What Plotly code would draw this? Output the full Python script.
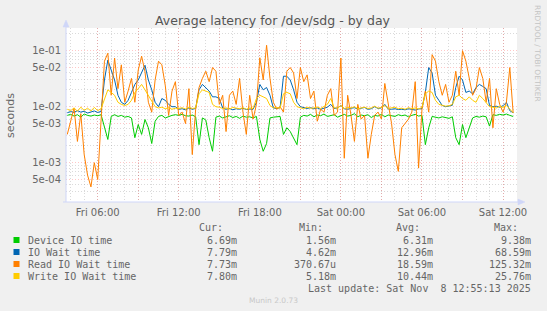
import numpy as np
import pandas as pd
import plotly.graph_objects as go

# ---------------- data (milliseconds, 15-minute samples) ----------------
start_time = "2025-11-07 03:45"
times = pd.date_range(start_time, periods=133, freq="15min")

device_ms = [
    7.0, 7.3, 6.8, 7.2, 6.5, 7.4, 7.0, 6.8, 7.1, 6.9, 7.2,
    4.2, 2.6, 6.7, 7.2, 6.7, 7.0, 6.5, 6.7, 6.3,
    2.8, 4.8, 3.2, 5.9, 4.2, 2.2, 5.5, 6.7, 7.0, 6.3, 6.7, 7.0, 7.2, 7.0,
    7.3, 6.9, 6.8, 7.1, 6.6,
    2.1, 6.3, 5.8, 2.8, 1.6,
    6.5, 6.8, 6.3, 6.6, 6.9, 6.4, 6.7, 6.2, 6.8, 6.5, 6.6, 6.3, 6.7,
    2.6, 1.6, 2.2, 6.3, 6.5, 6.7, 6.7, 3.2,
    4.2, 3.6, 2.8, 2.1,
    6.5, 7.0, 6.8, 7.3, 6.6, 7.1, 6.9, 7.4, 6.7, 7.0, 7.2, 6.5, 6.9, 7.3, 6.8,
    7.0, 7.5, 6.6, 7.1, 6.9, 7.2, 6.4, 7.0, 6.8, 7.3, 6.6, 7.1, 7.0, 6.7, 7.2,
    6.9, 7.1, 6.6, 7.0, 7.3, 6.8, 7.0,
    2.1, 4.2, 6.7,
    6.5, 6.3, 6.6, 6.4, 6.2, 6.6,
    2.8, 2.1, 4.8, 2.8, 4.2,
    6.3, 6.7, 6.5, 6.8, 6.6,
    4.5,
    7.2, 7.0, 7.3, 7.1, 7.4, 7.0, 6.69,
]

iowait_ms = [
    7.8, 8.2, 7.9, 8.5, 8.0, 8.3, 7.7, 8.1, 8.4, 7.9, 8.2,
    30, 68, 45, 30, 16, 12, 11, 13, 18,
    25, 30, 40, 55, 30, 20, 12, 10, 14, 13, 11, 10, 10, 9,
    9.2, 8.8, 9.5, 9.0, 9.3,
    20, 25, 22, 19, 15,
    15, 14, 9.5, 9.0, 9.3, 8.8, 9.2, 9.0, 9.4, 8.9, 9.1, 9.0, 12,
    25, 20, 22, 16, 9.5, 9.3, 9.6, 35,
    35, 30, 20, 12,
    10, 9.5, 9.3, 9.6, 9.2, 9.5, 9.0, 9.4, 9.8, 11, 9.3, 9.5, 10.5, 9.2, 9.0,
    9.4, 9.6, 9.1, 9.3, 9.7, 9.0, 9.2, 10, 9.3, 9.5, 11, 9.1, 9.0, 9.2, 8.9,
    9.0, 8.8, 9.2, 9.0, 8.7, 9.1, 9.3,
    18, 50, 40,
    16, 13, 10.5, 10, 10.2, 10.6,
    22, 35, 30, 18, 19,
    17, 22, 25, 23, 21,
    10.5,
    10, 10.2, 9.8, 10.4, 12, 8.5, 7.79,
]

read_ms = [
    3.2, 5.5, 9.5, 2.4, 7.5, 1.4, 0.6, 0.37, 1.0, 0.5, 5.5,
    65, 90, 16, 74, 21, 56, 12, 19, 32,
    12, 45, 80, 42, 12, 8, 30, 65, 56, 24, 7, 19, 28, 7,
    8, 5, 21, 1.4, 9,
    22, 32, 43, 28, 50,
    43, 11, 16, 3.6, 16, 19, 11, 32, 8, 3.2, 16, 6, 11,
    75, 30, 125, 32, 12, 9, 10, 8,
    43, 50, 40, 14,
    50, 28, 37, 14, 19, 5.5, 9, 8, 16, 21, 7, 8, 74, 1.2, 16,
    7, 2.4, 11, 6, 7, 1.2, 3.2, 7, 8, 6, 26, 11, 5, 1.4, 0.7,
    4.2, 5, 6, 8, 28, 0.8, 9,
    19, 8, 85,
    65, 28, 16, 25, 12, 16,
    43, 16, 100, 65, 32,
    16, 21, 50, 32, 12,
    32,
    4.2, 21, 11, 8, 12, 50, 7.73,
]

write_ms = [
    9.0, 8.5, 9.5, 8.3, 9.8, 8.6, 9.4, 8.4, 9.7, 8.5, 9.2,
    14, 20, 18, 16, 12, 11, 10.5, 11, 13,
    18, 21, 25, 20, 16, 13, 10, 9.5, 9.8, 9.2, 9.6, 9.0, 9.4, 9.3,
    9.6, 9.1, 9.8, 9.3, 9.5,
    17, 20, 19, 18, 11,
    10, 9.8, 9.3, 9.5, 9.1, 9.7, 9.4, 9.2, 9.6, 9.0, 9.5, 9.3, 14,
    16, 15, 14, 10.5, 9.5, 9.7, 9.4, 17,
    18, 17, 12, 10,
    9.6, 9.2, 9.8, 9.4, 9.5, 9.9, 9.3, 10.2, 11, 14, 9.6, 9.4, 10.5, 9.3, 9.7,
    9.5, 10, 9.2, 9.6, 9.8, 9.3, 9.5, 10.2, 9.4, 9.7, 10.5, 9.3, 9.5, 9.8, 9.2,
    9.4, 9.0, 9.6, 9.2, 9.5, 9.1, 9.7,
    17, 19, 18,
    13, 11, 10.5, 10.2, 10.4, 11,
    15, 16, 14, 13, 15,
    13, 12, 16, 14, 12,
    10,
    9.8, 9.5, 10.2, 9.7, 10.5, 9.0, 7.80,
]

series_names = ["Device IO time", "IO Wait time", "Read IO Wait time", "Write IO Wait time"]
series_colors = ["#00CC00", "#0066B3", "#FF8000", "#FFCC00"]
series_data = [device_ms, iowait_ms, read_ms, write_ms]

cur_text = ["6.69m", "7.79m", "7.73m", "7.80m"]
min_text = ["1.56m", "4.62m", "370.67u", "5.18m"]
avg_text = ["6.31m", "12.96m", "18.59m", "10.44m"]
max_text = ["9.38m", "68.59m", "125.32m", "25.76m"]

ytick_vals = [1e-1, 5e-2, 1e-2, 5e-3, 1e-3, 5e-4]
ytick_text = ["1e-01", "5e-02", "1e-02", "5e-03", "1e-03", "5e-04"]
xtick_vals = list(pd.date_range("2025-11-07 06:00", "2025-11-08 12:00", freq="3h"))
xtick_text = ["Fri 06:00", "", "Fri 12:00", "", "Fri 18:00", "",
              "Sat 00:00", "", "Sat 06:00", "", "Sat 12:00"]

title_text = "Average latency for /dev/sdg - by day"
ylabel_text = "seconds"
side_text = "RRDTOOL / TOBI OETIKER"
update_text = "Last update: Sat Nov\u00a0 8 12:55:13 2025"
version_text = "Munin 2.0.73"

# ---------------- layout geometry ----------------
W, H = 547, 311
L, R, T, B = 66, 517, 28, 202


def px(x):
    return (x - L) / (R - L)


def py(y):
    return (B - y) / (B - T)


FONT = "DejaVu Sans"
MONO = "DejaVu Sans Mono"
TXT = "#666666"
AXIS = "#CFD6F8"
MGRID = "rgba(255,0,0,0.22)"
GRID = "rgba(140,140,140,0.32)"

fig = go.Figure()
for name, color, vals in zip(series_names, series_colors, series_data):
    fig.add_trace(go.Scatter(x=times, y=np.array(vals) / 1000.0, mode="lines",
                             name=name, line=dict(color=color, width=1)))

minor_y = [m * 10.0 ** e for e in range(-4, 0) for m in (2, 3, 4, 6, 7, 8, 9)] + [0.2]

fig.update_layout(
    width=W, height=H,
    margin=dict(l=L, r=W - R, t=T, b=H - B, pad=0),
    paper_bgcolor="#F0F0F0", plot_bgcolor="#FFFFFF",
    showlegend=False,
    font=dict(family=FONT, color=TXT, size=10),
    xaxis=dict(
        type="date",
        range=["2025-11-07 03:39:15", "2025-11-08 13:02:00"],
        tickmode="array", tickvals=xtick_vals, ticktext=xtick_text,
        showgrid=True, gridcolor=MGRID, griddash="1px,2px", gridwidth=1,
        zeroline=False, showline=False, ticks="",
        tickfont=dict(size=10, color=TXT, family=FONT),
        ticklabelstandoff=3,
        minor=dict(dtick=3600000, tick0="2025-11-07 00:00", showgrid=True,
                   gridcolor=GRID, griddash="1px,2px", gridwidth=1, ticks=""),
        fixedrange=True,
    ),
    yaxis=dict(
        type="log",
        range=[-3.7018, -0.5946],
        tickmode="array", tickvals=ytick_vals, ticktext=ytick_text,
        showgrid=True, gridcolor=MGRID, griddash="1px,2px", gridwidth=1,
        zeroline=False, showline=False, ticks="",
        tickfont=dict(size=10, color=TXT, family=FONT),
        ticklabelstandoff=4,
        minor=dict(tickmode="array", tickvals=minor_y, showgrid=True,
                   gridcolor=GRID, griddash="1px,2px", gridwidth=1, ticks=""),
        fixedrange=True,
    ),
)

shapes = []
# axis lines with arrows
shapes.append(dict(type="line", xref="paper", yref="paper",
                   x0=px(66), x1=px(66), y0=py(202), y1=py(24),
                   line=dict(color=AXIS, width=1)))
shapes.append(dict(type="line", xref="paper", yref="paper",
                   x0=px(63), x1=px(520), y0=py(202), y1=py(202),
                   line=dict(color=AXIS, width=1)))
shapes.append(dict(type="path", xref="paper", yref="paper",
                   path="M {} {} L {} {} L {} {} Z".format(px(63), py(27), px(69), py(27), px(66), py(20)),
                   fillcolor=AXIS, line=dict(color=AXIS, width=0.5)))
shapes.append(dict(type="path", xref="paper", yref="paper",
                   path="M {} {} L {} {} L {} {} Z".format(px(518), py(199), px(518), py(205), px(525), py(202)),
                   fillcolor=AXIS, line=dict(color=AXIS, width=0.5)))

annotations = []


def ann(text, x, y, xanchor="left", size=10, family=MONO, color=TXT, angle=0):
    annotations.append(dict(text=text, x=px(x), y=py(y), xref="paper", yref="paper",
                            xanchor=xanchor, yanchor="middle", showarrow=False,
                            textangle=angle,
                            font=dict(size=size, family=family, color=color)))


ann(title_text, 273, 20, xanchor="center", size=12.5, family=FONT, color="#555555")
ann(ylabel_text, 10, 116, xanchor="center", size=11, family=FONT, color=TXT, angle=-90)
ann(side_text, 538, 53, xanchor="center", size=7.5, family=FONT, color="#C4C4C4", angle=90)

# legend header
for hdr, xr in zip(["Cur:", "Min:", "Avg:", "Max:"], [225, 324.5, 422.2, 520]):
    ann(hdr, xr, 227.5, xanchor="right")

rows_y = [240, 252, 264, 276]
for k in range(4):
    y = rows_y[k]
    shapes.append(dict(type="rect", xref="paper", yref="paper",
                       x0=px(13.5), x1=px(19.5), y0=py(y + 3), y1=py(y - 3),
                       fillcolor=series_colors[k], line=dict(width=0)))
    ann(series_names[k], 26, y, xanchor="left")
    ann(cur_text[k], 238.5, y, xanchor="right")
    ann(min_text[k], 337.5, y, xanchor="right")
    ann(avg_text[k], 435.2, y, xanchor="right")
    ann(max_text[k], 533.2, y, xanchor="right")

ann(update_text, 533, 288, xanchor="right")
ann(version_text, 273, 300, xanchor="center", size=7.5, family=FONT, color="#C8C8C8")

fig.update_layout(shapes=shapes, annotations=annotations)
fig.write_html("out.html")
